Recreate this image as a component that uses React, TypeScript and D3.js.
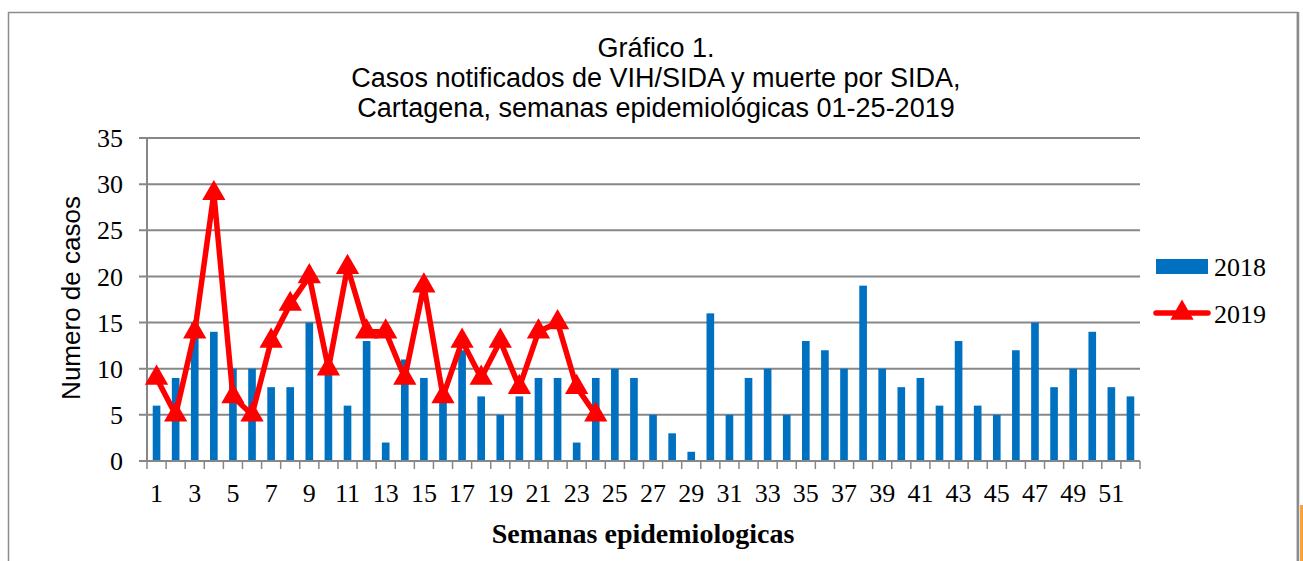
import { useRef, useEffect } from "react";
import * as d3 from "d3";

const weeks = d3.range(1, 53);
const cases2018 = [
  6, 9, 15, 14, 10, 10, 8, 8, 15, 10, 6, 13, 2, 11, 9, 7, 12, 7, 5, 7, 9, 9, 2,
  9, 10, 9, 5, 3, 1, 16, 5, 9, 10, 5, 13, 12, 10, 19, 10, 8, 9, 6, 13, 6, 5, 12,
  15, 8, 10, 14, 8, 7,
];
const cases2019 = [
  9, 5, 14, 29, 7, 5, 13, 17, 20, 10, 21, 14, 14, 9, 19, 7, 13, 9, 13, 8, 14, 15,
  8, 5,
];
const yTicks = [0, 5, 10, 15, 20, 25, 30, 35];
const titleLines = [
  "Gráfico 1.",
  "Casos notificados de VIH/SIDA y muerte por SIDA,",
  "Cartagena, semanas epidemiológicas 01-25-2019",
];

const BLUE = "#0070C0";
const RED = "#FF0000";
const GRID = "#878787";
const SERIF = "'Liberation Serif', 'DejaVu Serif', serif";
const SANS = "'Liberation Sans', Arial, sans-serif";

function App() {
  const ref = useRef<SVGSVGElement | null>(null);
  const width = 1303;
  const height = 561;

  useEffect(() => {
    if (!ref.current) return;
    const svg = d3.select(ref.current).html("");

    const left = 147;
    const right = 1140;
    const top = 138;
    const bottom = 461;

    // frame
    svg
      .append("rect")
      .attr("width", width)
      .attr("height", height)
      .attr("fill", "#fff");
    svg
      .append("rect")
      .attr("x", 1300)
      .attr("y", 505)
      .attr("width", 3)
      .attr("height", 56)
      .attr("fill", "#f5a33c");
    svg
      .append("rect")
      .attr("x", 8.5)
      .attr("y", 12.5)
      .attr("width", 1289)
      .attr("height", 560)
      .attr("fill", "#fff")
      .attr("stroke", "#8c8c8c")
      .attr("stroke-width", 1.5);
    svg
      .append("line")
      .attr("x1", 1298)
      .attr("x2", 1298)
      .attr("y1", 12)
      .attr("y2", height)
      .attr("stroke", "#8c8c8c")
      .attr("stroke-width", 2.5);

    // title
    svg
      .append("g")
      .selectAll("text")
      .data(titleLines)
      .enter()
      .append("text")
      .attr("x", 656)
      .attr("y", (d, i) => 57 + i * 30)
      .attr("text-anchor", "middle")
      .style("font-family", SANS)
      .style("font-size", "27px")
      .attr("fill", "#000")
      .text((d) => d);

    const x = d3
      .scaleBand<number>()
      .domain(weeks)
      .range([left, right])
      .padding(0);
    const y = d3.scaleLinear().domain([0, 35]).range([bottom, top]);
    const barW = x.bandwidth() * 0.4;
    const cx = (w: number) => (x(w) as number) + x.bandwidth() / 2;

    // gridlines
    svg
      .append("g")
      .selectAll("line")
      .data(yTicks.filter((t) => t > 0))
      .enter()
      .append("line")
      .attr("x1", left - 8)
      .attr("x2", right)
      .attr("y1", (d) => y(d))
      .attr("y2", (d) => y(d))
      .attr("stroke", GRID)
      .attr("stroke-width", 2);

    svg
      .append("line")
      .attr("x1", left)
      .attr("x2", left)
      .attr("y1", top)
      .attr("y2", bottom)
      .attr("stroke", GRID)
      .attr("stroke-width", 2);
    svg
      .append("line")
      .attr("x1", left - 8)
      .attr("x2", left)
      .attr("y1", bottom)
      .attr("y2", bottom)
      .attr("stroke", GRID)
      .attr("stroke-width", 2);

    svg
      .append("g")
      .selectAll("text")
      .data(yTicks)
      .enter()
      .append("text")
      .attr("x", 123)
      .attr("y", (d) => y(d))
      .attr("dy", "0.35em")
      .attr("text-anchor", "end")
      .style("font-family", SERIF)
      .style("font-size", "26px")
      .text((d) => d);

    // bars 2018
    svg
      .append("g")
      .selectAll("rect")
      .data(cases2018)
      .enter()
      .append("rect")
      .attr("x", (d, i) => cx(weeks[i]) - barW / 2)
      .attr("y", (d) => y(d))
      .attr("width", barW)
      .attr("height", (d) => bottom - y(d))
      .attr("fill", BLUE);

    // x axis
    svg
      .append("line")
      .attr("x1", left)
      .attr("x2", right)
      .attr("y1", bottom)
      .attr("y2", bottom)
      .attr("stroke", GRID)
      .attr("stroke-width", 2);
    svg
      .append("g")
      .selectAll("line")
      .data(weeks.concat([53]))
      .enter()
      .append("line")
      .attr("x1", (d) => (d <= 52 ? (x(d) as number) : right))
      .attr("x2", (d) => (d <= 52 ? (x(d) as number) : right))
      .attr("y1", bottom)
      .attr("y2", bottom + 8)
      .attr("stroke", GRID)
      .attr("stroke-width", 1.5);
    svg
      .append("g")
      .selectAll("text")
      .data(weeks.filter((w) => w % 2 === 1))
      .enter()
      .append("text")
      .attr("x", (d) => cx(d))
      .attr("y", 502)
      .attr("text-anchor", "middle")
      .style("font-family", SERIF)
      .style("font-size", "26px")
      .text((d) => d);

    // line 2019
    const line = d3
      .line<number>()
      .x((d, i) => cx(weeks[i]))
      .y((d) => y(d));
    svg
      .append("path")
      .datum(cases2019)
      .attr("d", line)
      .attr("fill", "none")
      .attr("stroke", RED)
      .attr("stroke-width", 5.5)
      .attr("stroke-linejoin", "round")
      .attr("stroke-linecap", "round");
    const tri = d3.symbol().type(d3.symbolTriangle).size(235);
    svg
      .append("g")
      .selectAll("path")
      .data(cases2019)
      .enter()
      .append("path")
      .attr("d", tri)
      .attr("transform", (d, i) => `translate(${cx(weeks[i])},${y(d)})`)
      .attr("fill", RED);

    // axis titles
    svg
      .append("text")
      .attr("transform", "translate(80,298) rotate(-90)")
      .attr("text-anchor", "middle")
      .style("font-family", SANS)
      .style("font-size", "26px")
      .text("Numero de casos");
    svg
      .append("text")
      .attr("x", 643)
      .attr("y", 543)
      .attr("text-anchor", "middle")
      .style("font-family", SERIF)
      .style("font-size", "28px")
      .style("font-weight", "bold")
      .text("Semanas epidemiologicas");

    // legend
    const lg = svg.append("g");
    lg.append("rect")
      .attr("x", 1156)
      .attr("y", 259)
      .attr("width", 52)
      .attr("height", 15)
      .attr("fill", BLUE);
    lg.append("text")
      .attr("x", 1214)
      .attr("y", 276)
      .style("font-family", SERIF)
      .style("font-size", "26px")
      .text("2018");
    lg.append("line")
      .attr("x1", 1156)
      .attr("x2", 1208)
      .attr("y1", 313)
      .attr("y2", 313)
      .attr("stroke", RED)
      .attr("stroke-width", 5.5)
      .attr("stroke-linecap", "round");
    lg.append("path")
      .attr("d", tri)
      .attr("transform", "translate(1182,313)")
      .attr("fill", RED);
    lg.append("text")
      .attr("x", 1214)
      .attr("y", 323)
      .style("font-family", SERIF)
      .style("font-size", "26px")
      .text("2019");
  }, []);

  return (
    <svg
      ref={ref}
      width={width}
      height={height}
      style={{ position: "absolute", left: 0, top: 0 }}
    ></svg>
  );
}
export default App;
